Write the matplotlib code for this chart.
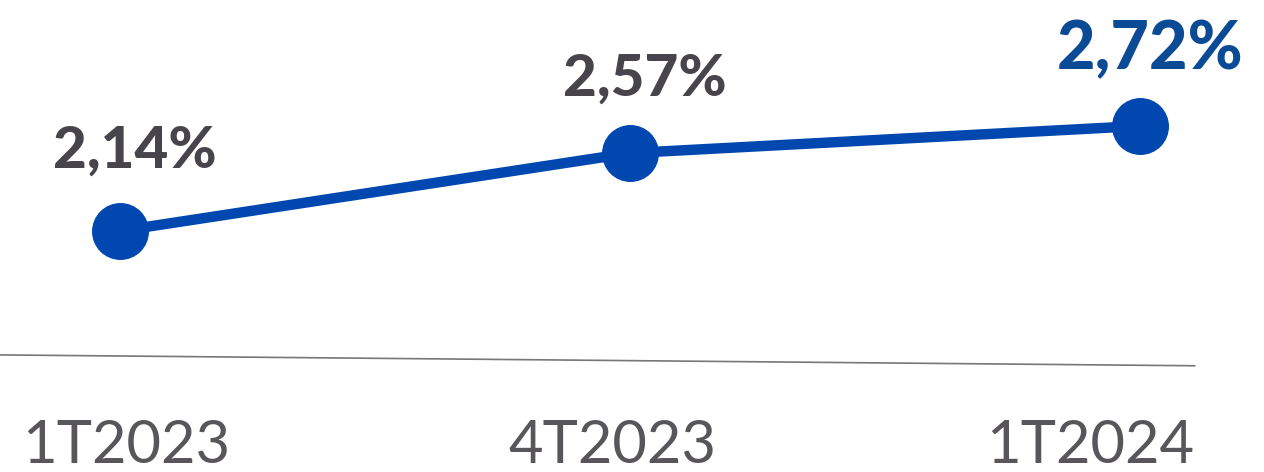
import matplotlib
matplotlib.use('Agg')
import matplotlib.pyplot as plt

periods = ['1T2023', '4T2023', '1T2024']
values = [2.14, 2.57, 2.72]
value_labels = ['2,14%', '2,57%', '2,72%']

line_blue = '#0048B0'
dark_gray = '#47444C'
last_blue = '#0B4A94'

fig = plt.figure(figsize=(12.64, 4.72), dpi=100)
ax = fig.add_axes([0, 0, 1, 1])
ax.set_xlim(-0.235, 2.243)
ax.set_ylim(0.808, 3.416)
ax.axis('off')

xs = list(range(len(values)))
ax.plot(xs, values, color=line_blue, linewidth=7.5, solid_capstyle='round', zorder=2)
ax.plot(xs, values, 'o', color=line_blue, markersize=40, zorder=3)

# baseline (slightly tilted in the original)
ax.plot([-0.235, 2.107], [1.455, 1.395], color='#777777', linewidth=1.2)

label_dx = [0.03, 0.03, 0.02]
label_dy = [0.44, 0.41, 0.42]
label_sizes = [42, 42, 48]
label_colors = [dark_gray, dark_gray, last_blue]
for x, v, t, dx, dy, s, c in zip(xs, values, value_labels, label_dx, label_dy,
                                 label_sizes, label_colors):
    ax.text(x + dx, v + dy, t, ha='center', va='center', fontsize=s,
            fontweight='black', color=c, family='Lato')

tick_dx = [0.012, -0.035, -0.098]
for x, p, dx in zip(xs, periods, tick_dx):
    ax.text(x + dx, 0.95, p, ha='center', va='center', fontsize=43,
            color='#58565A', family='Lato')

fig.savefig('out.png', dpi=100)
